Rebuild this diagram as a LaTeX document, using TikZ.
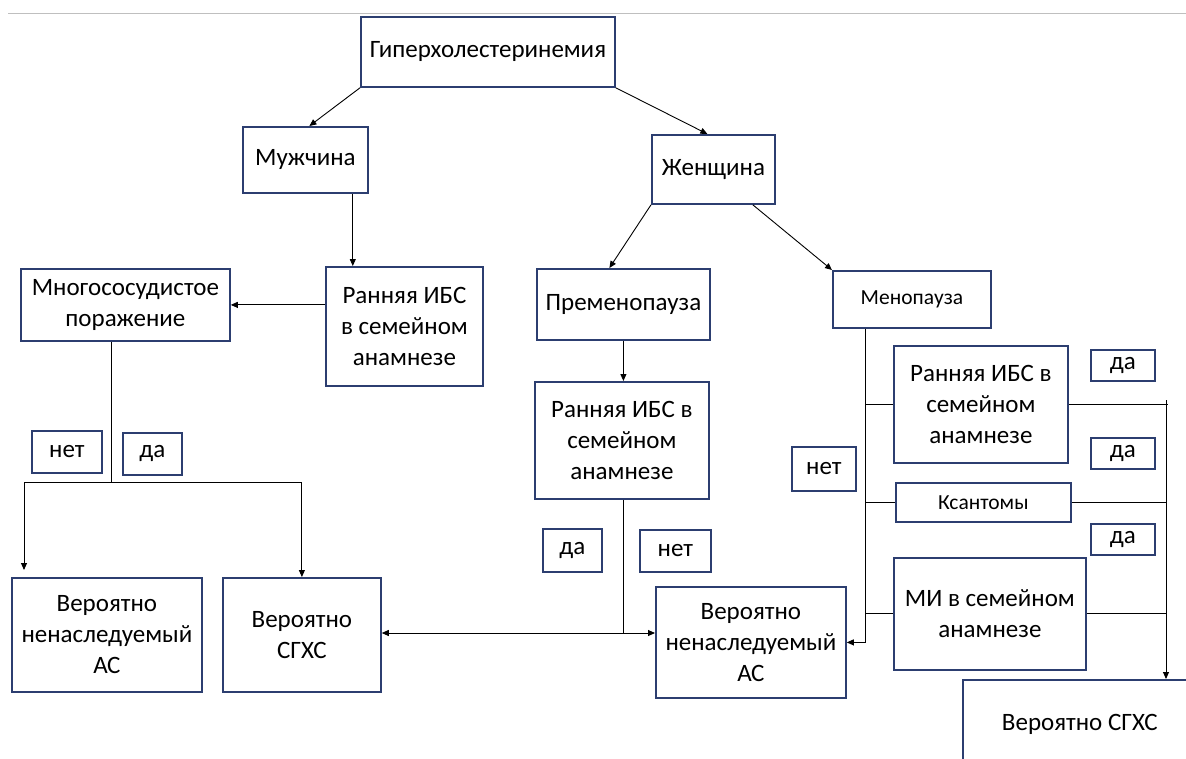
\documentclass[tikz,border=0pt]{standalone}
\usepackage{fontspec}
\setmainfont{Carlito}
\usetikzlibrary{arrows.meta}
\definecolor{boxblue}{RGB}{44,62,112}

\begin{document}
\begin{tikzpicture}[
    x=1pt, y=-1pt,
    box/.style 2 args={
        rectangle,
        draw=boxblue,
        line width=1.8pt,
        inner sep=0pt,
        anchor=north west,
        minimum width=#1pt,
        minimum height=#2pt,
        align=center,
        font=\fontsize{25}{31}\selectfont
    },
    small/.style={font=\fontsize{21.5}{25}\selectfont},
    arrow/.style={-{Triangle[length=7pt,width=6pt]}, line width=0.9pt},
    link/.style={line width=0.9pt}
]
\path[use as bounding box, fill=white] (0,0) rectangle (1186,758);
\clip (0,0) rectangle (1186,758);

\draw[black!25, line width=1pt] (8,13) -- (1186,13);

% Nodes
\node[box={254}{70}] (hyper) at (360,16) {Гиперхолестеринемия};
\node[box={125}{66}] (male) at (242,126) {Мужчина};
\node[box={123}{69}] (female) at (651,134) {Женщина};
\node[box={209}{72}] (multi) at (20,268) {Многососудистое\\поражение};
\node[box={157}{119}] (ibsM) at (325,266) {Ранняя ИБС\\в семейном\\анамнезе};
\node[box={173}{71}] (premeno) at (536,268) {Пременопауза};
\node[box={158}{57}, small] (meno) at (832,270) {Менопауза};
\node[box={174}{117}] (ibsP) at (534,381) {Ранняя ИБС в\\семейном\\анамнезе};
\node[box={174}{117}] (ibsR) at (893,345) {Ранняя ИБС в\\семейном\\анамнезе};
\node[box={175}{39}, small] (xanth) at (895,482) {Ксантомы};
\node[box={192}{112}] (mi) at (893,557) {МИ в семейном\\анамнезе};

% Answers
\node[box={70}{42}] (noM) at (31,430) {нет};
\node[box={59}{42}] (yesM) at (122,432) {да};
\node[box={59}{43}] (yesP) at (542,528) {да};
\node[box={71}{42}] (noP) at (639,529) {нет};
\node[box={64}{44}] (noR) at (791,446) {нет};
\node[box={64}{31}] (yesR1) at (1090,349) {да};
\node[box={64}{31}] (yesR2) at (1090,437) {да};
\node[box={64}{31}] (yesR3) at (1090,523) {да};

% Outcomes
\node[box={190}{114}] (nonherL) at (11,577) {Вероятно\\ненаследуемый\\АС};
\node[box={158}{114}] (sghsL) at (222,577) {Вероятно\\СГХС};
\node[box={190}{111}] (nonherM) at (655,586) {Вероятно\\ненаследуемый\\АС};
\node[box={234}{88}] (sghsR) at (962,679) {Вероятно СГХС};

% Arrows
\draw[arrow] (hyper.south west) -- ([xshift=4]male.north);
\draw[arrow] (hyper.south east) -- ([xshift=-6]female.north);
\coordinate (maleOut) at ([xshift=-16]male.south east);
\draw[arrow] (maleOut) -- (maleOut |- ibsM.north);
\draw[arrow] (ibsM.west |- multi.east) -- (multi.east);
\draw[arrow] (female.south west) -- ([xshift=-14]premeno.north);
\draw[arrow] ([xshift=-23]female.south east) -- (meno.north west);
\draw[arrow] (premeno.south) -- (premeno.south |- ibsP.north);

% left fork
\coordinate (forkL) at (111,482);
\coordinate (dropL) at ([xshift=13,yshift=7]nonherL.north west);
\draw[link] (multi.south -| forkL) -- (forkL);
\draw[link] (dropL |- forkL) -- (sghsL.north |- forkL);
\draw[arrow] (dropL |- forkL) -- (dropL);
\draw[arrow] (sghsL.north |- forkL) -- (sghsL.north);

% middle fork
\coordinate (forkP) at (623,633);
\draw[link] (ibsP.south -| forkP) -- (forkP);
\draw[arrow] (forkP) -- (forkP -| sghsL.east);
\draw[arrow] (forkP) -- (forkP -| nonherM.west);

% menopause trunk
\coordinate (trunk) at ([xshift=33]meno.south west);
\draw[arrow] (trunk) |- (nonherM.east);
\draw[link] (trunk |- ibsR.west) -- (ibsR.west);
\draw[link] (trunk |- xanth.west) -- (xanth.west);
\draw[link] (trunk |- mi.west) -- (mi.west);

% right bus
\coordinate (bus) at (1166,400);
\draw[link] (ibsR.east) -- ([xshift=2]ibsR.east -| bus);
\draw[link] (xanth.east) -- (xanth.east -| bus);
\draw[link] (mi.east) -- (mi.east -| bus);
\draw[arrow] (bus) -- (bus |- sghsR.north);

\end{tikzpicture}
\end{document}
